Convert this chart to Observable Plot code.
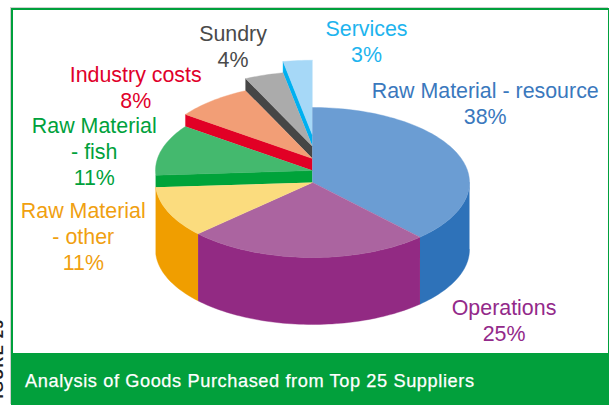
<!DOCTYPE html>
<html>
<head>
<meta charset="utf-8">
<script src="https://cdn.jsdelivr.net/npm/d3@7"></script>
<script src="https://cdn.jsdelivr.net/npm/@observablehq/plot@0.6"></script>
<style>
  html, body { margin: 0; padding: 0; background: #fff; }
  #page { position: relative; width: 609px; height: 405px; overflow: hidden; font-family: "Liberation Sans", Arial, sans-serif; }
  #panel { position: absolute; left: 11px; top: 8px; width: 598px; height: 397px; box-sizing: border-box;
           border: 2px solid #00a03c; border-right-width: 1px; border-bottom: 0; box-shadow: -1px -1px 0 #cfcfcf; }
  #chart { position: absolute; left: 0; top: 0; }
  #chart svg { display: block; }
  #footer { position: absolute; left: -2px; right: -1px; top: 343px; bottom: 0; background: #02a03c; color: #fff;
            font-size: 18.2px; letter-spacing: 0.6px; padding-left: 14px; line-height: 56px; -webkit-text-stroke: 0.25px #fff; }
  #margin-note { position: absolute; left: -9px; top: 305px; height: 104px; line-height: 14px; white-space: nowrap;
                 writing-mode: vertical-rl; transform: rotate(180deg); text-align: left;
                 font-size: 15px; font-weight: bold; letter-spacing: 1.4px; color: #222; }
</style>
</head>
<body>
<div id="page">
  <div id="margin-note">FIGURE 25</div>
  <div id="panel">
    <div id="chart"></div>
    <div id="footer">Analysis of Goods Purchased from Top 25 Suppliers</div>
  </div>
</div>
<script>
// Slices clockwise from twelve o'clock
const categories = ["Raw Material - resource", "Operations", "Raw Material - other", "Raw Material - fish", "Industry costs", "Sundry", "Services"];
const shares = [38, 25, 11, 11, 8, 4, 3];
const topColors = ["#6b9dd3", "#ab64a0", "#fbdc7e", "#44b96e", "#f29e76", "#ababab", "#a6d8f7"];
const wallColors = ["#2e72b9", "#922a83", "#f09e00", "#00a33a", "#e10025", "#464646", "#00b0f0"];
// Upward shift of each slice, in vertical radii: the small slices climb like stairs
const lifts = [0, 0, 0, 0.16, 0.32, 0.48, 0.63];
const wallDepth = 0.893;

const labelLines = ["Raw Material - resource\n38%", "Operations\n25%", "Raw Material\n- other\n11%", "Raw Material\n- fish\n11%", "Industry costs\n8%", "Sundry\n4%", "Services\n3%"];
const labelColors = ["#3a78bd", "#93298a", "#f0a010", "#00a13c", "#e0002a", "#4a4a4a", "#1db4ee"];
const labelX = [1.1, 1.22, -1.46, -1.39, -1.126, -0.506, 0.344];
const labelY = [1.063, -1.83, -0.71, 0.43, 1.28, 1.83, 1.887];

const TAU = Math.PI * 2;
const rim = (turn, lift, drop = 0) => ({x: Math.sin(turn * TAU), y: Math.cos(turn * TAU) + lift - drop});

// Cumulative start and end of every slice as fractions of a turn
let running = 0;
const slices = categories.map((name, i) => {
  const start = running / 100;
  running += shares[i];
  return {name, start, end: running / 100, lift: lifts[i], step: i ? lifts[i] - lifts[i - 1] : 0, top: topColors[i], wall: wallColors[i]};
});

function arc(a, b, lift, drop = 0) {
  const n = Math.max(2, Math.ceil((b - a) * 240));
  return d3.range(n + 1).map(k => rim(a + (b - a) * k / n, lift, drop));
}

const polygon = (points, fill) => Plot.line(points, {x: "x", y: "y", fill, stroke: fill, strokeWidth: 0.4, curve: "linear"});
const marks = [];

// Stepped slices at the back, farthest first: each shows a band under its leading radius
for (const s of slices.slice(3).reverse()) {
  const r = rim(s.start, s.lift);
  marks.push(polygon([
    {x: 0, y: s.lift},
    r,
    {x: r.x, y: r.y - s.step},
    {x: 0, y: s.lift - s.step}
  ], s.wall));
  marks.push(polygon([{x: 0, y: s.lift}, ...arc(s.start, s.end, s.lift)], s.top));
}

// Front walls of the three slices that sit on the base plane
for (const s of slices.slice(0, 3)) {
  const a = Math.max(s.start, 0.25), b = Math.min(s.end, 0.75);
  if (b > a) marks.push(polygon([...arc(a, b, 0), ...arc(a, b, 0, wallDepth).reverse()], s.wall));
}
// Top faces of the same three slices
for (const s of slices.slice(0, 3)) {
  marks.push(polygon([{x: 0, y: 0}, ...arc(s.start, s.end, 0)], s.top));
}

marks.push(Plot.text(labelLines.map((text, i) => ({text, x: labelX[i], y: labelY[i], color: labelColors[i]})), {
  x: "x", y: "y", text: "text", fill: d => d.color, lineHeight: 1.22, lineAnchor: "middle", textAnchor: "middle",
  fontSize: 21.4, fontFamily: "'Liberation Sans', Arial, sans-serif"
}));

// One radius horizontally is 157px and one vertically 75px
const chart = Plot.plot({
  width: 595,
  height: 343,
  margin: 0,
  x: {axis: null, domain: [-1, 1], range: [142, 456]},
  y: {axis: null, domain: [-1, 1], range: [247, 97]},
  marks
});
document.getElementById("chart").appendChild(chart);
</script>
</body>
</html>
